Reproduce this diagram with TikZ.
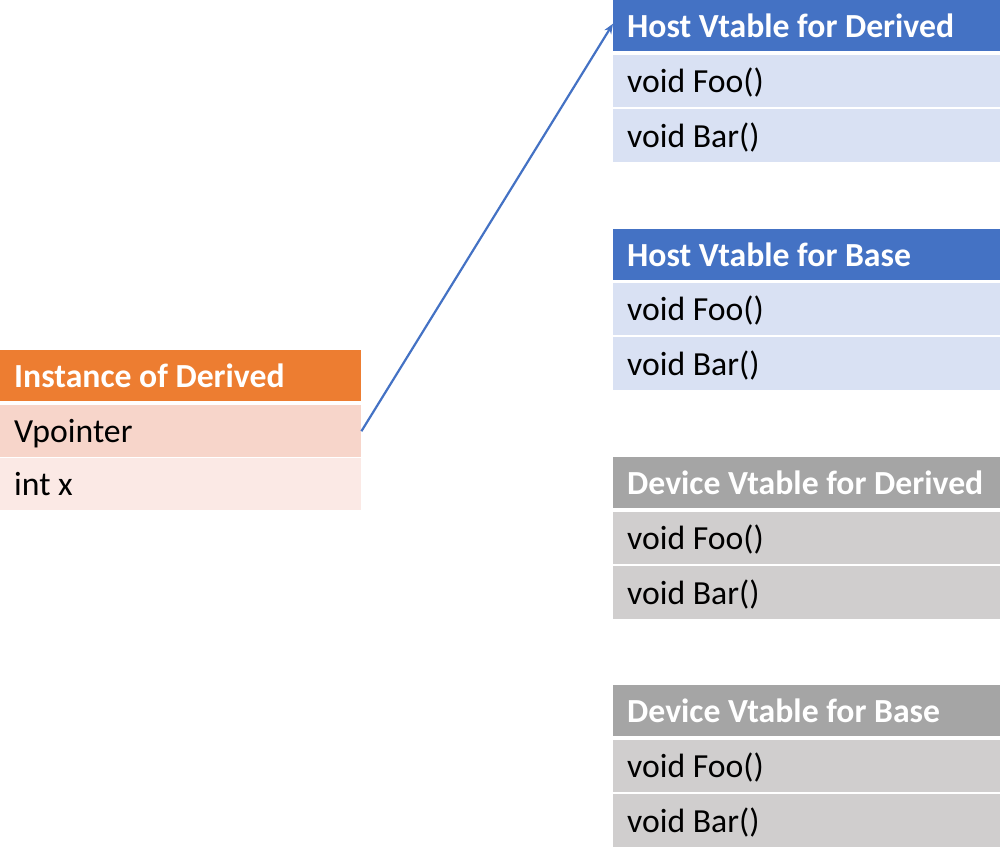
\documentclass[tikz,border=0pt]{standalone}
\usepackage{fontspec}
\setmainfont{Carlito}
\usetikzlibrary{arrows.meta}
\definecolor{hblue}{HTML}{4472C4}
\definecolor{rblue}{HTML}{D9E1F3}
\definecolor{horange}{HTML}{ED7D31}
\definecolor{rorange}{HTML}{F7D5CA}
\definecolor{rorange2}{HTML}{FBE9E5}
\definecolor{hgray}{HTML}{A5A5A5}
\definecolor{rgray}{HTML}{D0CECE}
\newcommand{\rt}[1]{\makebox[359pt][l]{#1}}
\newcommand{\lt}[1]{\makebox[333pt][l]{#1}}
\tikzset{
  cell/.style={anchor=north west, inner xsep=14pt, inner ysep=0pt,
    text height=23.5pt, text depth=0pt, font=\fontsize{33.7}{40}\selectfont},
  hdr/.style={font=\fontsize{33.7}{40}\selectfont\bfseries, text=white, minimum height=51pt},
  row/.style={text=black, minimum height=52pt},
  arr/.style={draw=hblue, line width=2.2pt, -{Stealth[length=10pt,width=8pt]}}
}
\begin{document}
\begin{tikzpicture}[x=1pt,y=-1pt]
\useasboundingbox (0,0) rectangle (1000,847);
% right tables
\node[cell,hdr,fill=hblue] (hd) at (613,0) {\rt{Host Vtable for Derived}};
\node[cell,row,fill=rblue] (hdf) at (613,55) {\rt{void Foo()}};
\node[cell,row,fill=rblue,minimum height=53pt] (hdb) at (613,109) {\rt{void Bar()}};

\node[cell,hdr,fill=hblue] (hb) at (613,229) {\rt{Host Vtable for Base}};
\node[cell,row,fill=rblue] (hbf) at (613,283) {\rt{void Foo()}};
\node[cell,row,fill=rblue,minimum height=53pt] (hbb) at (613,337) {\rt{void Bar()}};

\node[cell,hdr,fill=hgray] (dd) at (613,457) {\rt{Device Vtable for Derived}};
\node[cell,row,fill=rgray] (ddf) at (613,512) {\rt{void Foo()}};
\node[cell,row,fill=rgray,minimum height=53pt] (ddb) at (613,566) {\rt{void Bar()}};

\node[cell,hdr,fill=hgray] (db) at (613,685) {\rt{Device Vtable for Base}};
\node[cell,row,fill=rgray] (dbf) at (613,740) {\rt{void Foo()}};
\node[cell,row,fill=rgray,minimum height=53pt] (dbb) at (613,794) {\rt{void Bar()}};

% left table
\node[cell,hdr,fill=horange] (inst) at (0,350) {\lt{Instance of Derived}};
\node[cell,row,fill=rorange] (vp) at (0,405) {\lt{Vpointer}};
\node[cell,row,fill=rorange2] (ix) at (0,458) {\lt{int x}};

\draw[arr] (vp.east) -- ([yshift=2pt]hd.west);
\end{tikzpicture}
\end{document}
